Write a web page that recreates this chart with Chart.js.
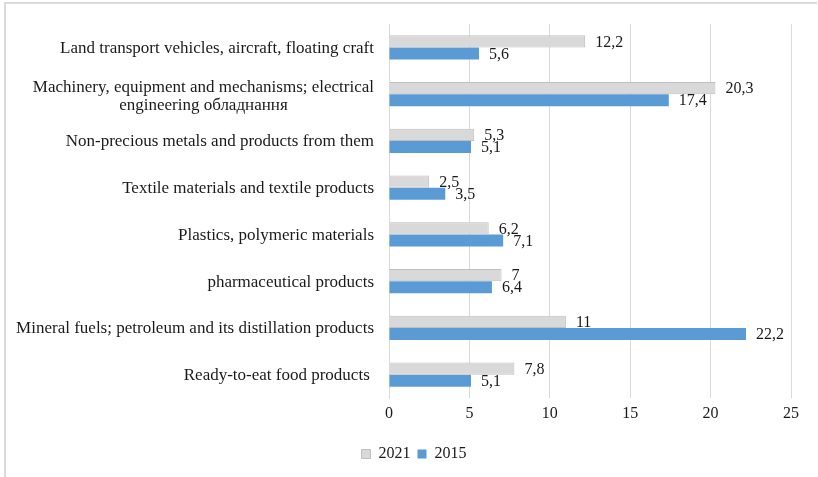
<!DOCTYPE html>
<html>
<head>
<meta charset="utf-8">
<script src="https://cdn.jsdelivr.net/npm/chart.js@4.4.1/dist/chart.umd.min.js"></script>
<style>
  html, body { margin: 0; padding: 0; background: #fff; }
  canvas { display: block; }
</style>
</head>
<body>
<canvas id="c" width="818" height="477"></canvas>
<script>
// Export structure by product group, % of total
const categories = [
  ['Land transport vehicles, aircraft, floating craft'],
  ['Machinery, equipment and mechanisms; electrical', 'engineering обладнання'],
  ['Non-precious metals and products from them'],
  ['Textile materials and textile products'],
  ['Plastics, polymeric materials'],
  ['pharmaceutical products'],
  ['Mineral fuels; petroleum and its distillation products'],
  ['Ready-to-eat food products ']
];
const values2021 = [12.2, 20.3, 5.3, 2.5, 6.2, 7, 11, 7.8];
const values2015 = [5.6, 17.4, 5.1, 3.5, 7.1, 6.4, 22.2, 5.1];
const xTicks = [0, 5, 10, 15, 20, 25];

const FONT = '"Liberation Serif", "Times New Roman", serif';
const TEXT = '#1a1a1a';

const fmt = v => String(v).replace('.', ',');

// Frame lines along the top and left edges
const framePlugin = {
  id: 'frame',
  beforeDraw(chart) {
    const ctx = chart.ctx;
    ctx.save();
    ctx.fillStyle = '#fff';
    ctx.fillRect(0, 0, chart.width, chart.height);
    ctx.fillStyle = '#dadada';
    ctx.fillRect(4, 2, chart.width - 5, 2);
    ctx.fillRect(4, 2, 2, chart.height - 2);
    ctx.restore();
  }
};

// Category names: right-aligned block, lines centred within it
const categoryLabels = {
  id: 'categoryLabels',
  afterDraw(chart) {
    const ctx = chart.ctx;
    const y = chart.scales.y;
    const right = chart.chartArea.left - 15;
    ctx.save();
    ctx.font = '17px ' + FONT;
    ctx.fillStyle = TEXT;
    ctx.textBaseline = 'middle';
    ctx.textAlign = 'center';
    const lh = 18;
    categories.forEach((lines, i) => {
      const cy = y.getPixelForValue(i) + 1;
      const w = Math.max(...lines.map(l => ctx.measureText(l).width));
      const cx = right - w / 2;
      const top = cy - (lines.length - 1) * lh / 2 + (lines.length - 1);
      lines.forEach((l, k) => ctx.fillText(l, cx, top + k * lh));
    });
    ctx.restore();
  }
};

// Value labels at the end of each bar
const valueLabels = {
  id: 'valueLabels',
  afterDatasetsDraw(chart) {
    const ctx = chart.ctx;
    ctx.save();
    ctx.font = '16px ' + FONT;
    ctx.fillStyle = TEXT;
    ctx.textBaseline = 'middle';
    ctx.textAlign = 'left';
    chart.data.datasets.forEach((ds, di) => {
      const meta = chart.getDatasetMeta(di);
      meta.data.forEach((bar, i) => {
        ctx.fillText(fmt(ds.data[i]), bar.x + 10, bar.y + 1);
      });
    });
    ctx.restore();
  }
};

new Chart(document.getElementById('c'), {
  type: 'bar',
  data: {
    labels: categories.map(c => c.join(' ')),
    datasets: [
      {
        label: '2021',
        data: values2021,
        backgroundColor: '#d9d9d9',
        borderColor: '#bfbfbf',
        borderWidth: 1,
        categoryPercentage: 0.52,
        barPercentage: 1
      },
      {
        label: '2015',
        data: values2015,
        backgroundColor: '#5b9bd5',
        borderColor: '#5b9bd5',
        borderWidth: 0,
        categoryPercentage: 0.52,
        barPercentage: 1
      }
    ]
  },
  options: {
    indexAxis: 'y',
    responsive: false,
    animation: false,
    devicePixelRatio: 1,
    layout: { padding: { left: 37, right: 27, top: 24, bottom: 5 } },
    scales: {
      x: {
        min: 0,
        max: 25,
        afterBuildTicks(scale) { scale.ticks = xTicks.map(v => ({ value: v })); },
        afterFit(scale) { scale.height = 41; },
        grid: { color: '#d9d9d9', lineWidth: 1, drawTicks: false },
        border: { display: false },
        ticks: {
          padding: 6,
          color: TEXT,
          font: { family: FONT, size: 16 }
        }
      },
      y: {
        afterFit(scale) { scale.width = 352; },
        grid: { display: false, drawTicks: false },
        border: { display: true, color: '#d9d9d9', width: 1 },
        ticks: { display: false }
      }
    },
    plugins: {
      legend: {
        position: 'bottom',
        labels: {
          color: TEXT,
          font: { family: FONT, size: 16 },
          boxWidth: 9,
          boxHeight: 9,
          padding: 7
        }
      },
      tooltip: { enabled: false }
    }
  },
  plugins: [framePlugin, categoryLabels, valueLabels]
});
</script>
</body>
</html>
